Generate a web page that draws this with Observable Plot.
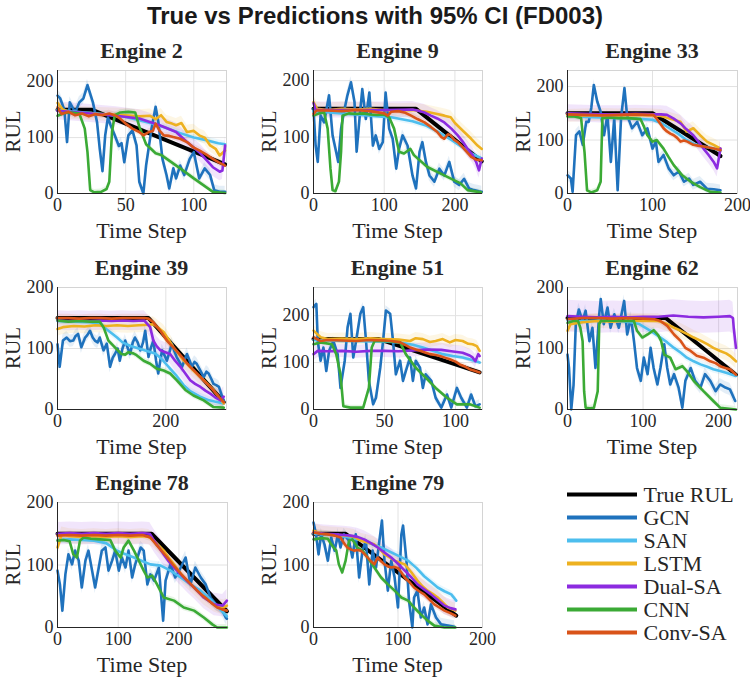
<!DOCTYPE html>
<html><head><meta charset="utf-8">
<script src="https://cdn.jsdelivr.net/npm/d3@7"></script>
<script src="https://cdn.jsdelivr.net/npm/@observablehq/plot@0.6"></script>
<style>
body{margin:0;background:#fff;}
#chart{position:relative;width:750px;height:677px;overflow:hidden;background:#fff;}
#chart svg{position:absolute;overflow:visible;}
</style></head><body><div id="chart"></div><script>
// ---------------- DATA ----------------
const chartTitle = "True vs Predictions with 95% CI (FD003)";
const engineIds = [2, 9, 33, 39, 51, 62, 78, 79];
const xMax = [124, 239, 200, 312, 119, 225, 280, 200];
const yMax = [220, 218, 230, 200, 260, 200, 200, 200];
const xTicks = [[0,50,100],[0,100,200],[0,100,200],[0,200],[0,50,100],[0,100,200],[0,100,200],[0,100,200]];
const yTicks = [0, 100, 200];
const seriesNames = ["True RUL","GCN","SAN","LSTM","Dual-SA","CNN","Conv-SA"];
const ciHalf = [0, 10, 6, 12, 16, 5, 6];          // 95% CI half-width per series
const dualCi = [16, 14, 16, 16, 14, 26, 18, 14];   // Dual-SA CI half-width per engine

// Engine 2
const e2_true = [[0,150],[25,150],[123,52]];
const e2_gcn = [[0,175],[2,170],[5,150],[7,92],[9,163],[13,145],[16,163],[19,170],[22,194],[26,163],[29,128],[31,80],[33,40],[35,104],[37,136],[39,122],[42,104],[45,85],[47,90],[49,56],[52,104],[55,113],[58,86],[60,21],[63,0],[65,50],[69,116],[72,155],[74,128],[77,62],[80,33],[82,9],[85,45],[87,27],[90,50],[93,33],[97,62],[100,74],[104,27],[108,45],[112,33],[115,6],[119,3],[123,3]];
const e2_san = [[0,150],[10,147],[20,145],[30,143],[40,140],[50,137],[60,131],[70,125],[80,117],[90,108],[100,100],[110,95],[118,90],[123,88]];
const e2_lstm = [[0,162],[4,150],[10,145],[20,143],[30,142],[40,141],[50,140],[60,138],[68,139],[72,133],[76,140],[80,128],[84,125],[87,122],[91,126],[95,110],[100,112],[104,104],[108,100],[112,86],[116,80],[119,68],[123,77]];
const e2_dual = [[0,148],[20,144],[43,139],[60,134],[75,122],[87,110],[95,92],[104,74],[114,47],[119,39],[121,41],[123,86]];
const e2_cnn = [[0,139],[5,144],[10,145],[16,143],[20,116],[22,74],[24,6],[27,2],[32,3],[36,8],[38,21],[40,110],[42,140],[46,145],[52,146],[57,145],[60,120],[65,88],[72,72],[76,69],[90,45],[100,27],[114,3],[123,1]];
const e2_conv = [[0,154],[3,142],[8,146],[13,140],[18,143],[23,138],[28,142],[33,140],[38,143],[43,139],[46,134],[50,125],[55,116],[60,110],[63,104],[67,110],[70,112],[72,125],[75,112],[78,104],[82,103],[85,101],[90,98],[95,92],[100,82],[104,77],[109,70],[114,62],[118,56],[123,50]];

// Engine 9
const e9_true = [[0,150],[145,150],[238,57]];
const e9_gcn = [[0,150],[3,85],[6,56],[10,138],[15,126],[22,174],[27,103],[32,74],[35,56],[39,115],[43,144],[48,174],[53,197],[58,162],[61,74],[65,132],[69,185],[74,132],[79,179],[84,85],[88,103],[93,79],[98,91],[102,179],[107,115],[112,97],[117,44],[121,79],[126,103],[133,85],[140,32],[145,9],[150,74],[154,91],[159,56],[164,32],[171,21],[178,44],[185,32],[192,56],[199,21],[206,15],[213,26],[220,9],[227,6],[234,4],[238,3]];
const e9_san = [[0,146],[40,142],[80,138],[110,135],[140,128],[160,120],[175,110],[195,95],[213,80],[225,70],[238,62]];
const e9_lstm = [[0,162],[5,150],[20,148],[40,150],[60,149],[80,150],[100,148],[120,147],[140,148],[160,145],[175,141],[185,138],[194,135],[200,125],[213,109],[223,97],[232,85],[238,79]];
const e9_dual = [[0,160],[3,148],[20,148],[60,148],[100,148],[140,149],[147,147],[156,144],[166,138],[175,133],[185,126],[195,115],[204,103],[211,92],[218,79],[225,68],[230,56],[234,41],[238,62]];
const e9_cnn = [[0,138],[8,142],[15,144],[20,115],[24,44],[27,6],[31,4],[36,21],[39,74],[41,138],[50,142],[60,141],[70,142],[80,140],[90,139],[100,140],[107,135],[114,115],[121,74],[128,71],[137,79],[142,68],[161,47],[185,32],[208,18],[218,6],[237,2]];
const e9_conv = [[0,141],[4,147],[20,147],[40,146],[60,148],[80,146],[100,142],[105,138],[110,145],[120,146],[130,143],[138,138],[147,132],[157,126],[166,118],[175,109],[181,100],[185,97],[190,105],[194,103],[199,95],[204,91],[208,86],[213,79],[218,72],[223,65],[230,60],[238,59]];

// Engine 33
const e33_true = [[0,150],[100,150],[180,70]];
const e33_gcn = [[0,34],[4,28],[6,3],[10,109],[14,116],[18,91],[22,134],[25,134],[28,160],[31,203],[35,172],[39,153],[43,109],[47,147],[51,59],[55,141],[59,6],[63,141],[67,197],[70,147],[76,122],[82,134],[88,109],[94,122],[100,84],[104,97],[107,59],[113,72],[119,47],[125,34],[131,41],[137,22],[143,28],[148,16],[156,22],[164,9],[172,8],[180,6]];
const e33_san = [[0,145],[20,143],[40,142],[60,141],[80,140],[100,138],[110,132],[120,122],[130,112],[140,100],[150,92],[160,88],[172,84],[180,80]];
const e33_lstm = [[0,145],[20,146],[40,147],[60,146],[80,147],[100,146],[110,145],[120,140],[133,134],[140,116],[148,122],[156,109],[164,97],[172,91],[180,84]];
const e33_dual = [[0,150],[20,149],[40,148],[60,148],[80,149],[100,148],[110,148],[117,147],[125,140],[133,131],[140,120],[148,109],[154,97],[160,84],[166,72],[172,59],[176,47],[180,84]];
const e33_cnn = [[0,144],[8,144],[16,141],[20,78],[23,6],[28,2],[35,6],[39,22],[41,141],[50,142],[60,141],[70,141],[80,140],[86,139],[90,125],[94,109],[100,97],[105,100],[113,84],[119,68],[125,53],[135,34],[145,22],[156,12],[168,3],[180,2]];
const e33_conv = [[0,148],[20,147],[40,146],[60,147],[80,148],[95,147],[101,147],[105,140],[109,131],[113,122],[117,116],[121,112],[125,109],[129,104],[133,97],[137,99],[141,97],[148,91],[155,89],[160,88],[166,86],[172,84],[180,81]];

// Engine 39
const e39_true = [[0,150],[168,150],[307,12]];
const e39_gcn = [[0,107],[4,70],[10,113],[17,118],[23,112],[29,113],[33,120],[38,124],[44,102],[51,118],[55,122],[60,129],[65,118],[69,113],[74,110],[78,118],[85,97],[91,108],[97,70],[102,85],[106,91],[111,100],[115,80],[120,100],[125,113],[130,100],[134,91],[139,110],[143,118],[148,110],[153,97],[158,110],[162,129],[168,86],[172,100],[177,113],[182,80],[186,59],[193,97],[198,88],[202,80],[207,95],[211,108],[216,95],[220,86],[225,78],[230,70],[235,82],[239,91],[244,80],[248,70],[253,78],[257,75],[263,65],[270,53],[275,62],[279,59],[284,50],[288,42],[293,40],[298,37],[304,21],[307,15]];
const e39_san = [[0,145],[30,144],[60,143],[80,140],[90,132],[100,125],[110,118],[120,110],[135,104],[150,100],[165,96],[180,92],[190,85],[200,75],[210,65],[220,55],[233,40],[245,30],[263,21],[280,15],[290,13],[307,10]];
const e39_lstm = [[0,132],[10,135],[30,137],[50,136],[70,138],[90,137],[110,138],[130,137],[150,138],[170,139],[177,140],[186,134],[196,127],[205,115],[214,102],[224,91],[233,80],[242,72],[251,64],[260,56],[270,48],[279,40],[288,32],[298,20],[307,10]];
const e39_dual = [[0,146],[20,145],[40,146],[60,145],[80,146],[100,145],[120,146],[140,145],[160,146],[171,135],[177,113],[183,104],[190,97],[199,94],[208,91],[217,80],[227,70],[236,59],[245,48],[254,42],[264,37],[273,31],[282,26],[291,20],[301,15],[307,21]];
const e39_cnn = [[0,146],[20,144],[40,145],[60,144],[78,144],[85,135],[94,113],[106,102],[118,91],[125,90],[131,94],[140,92],[146,89],[159,80],[171,75],[183,67],[196,64],[208,59],[220,48],[236,32],[251,23],[270,15],[288,4],[307,3]];
const e39_conv = [[0,150],[20,150],[40,149],[60,150],[80,150],[100,149],[120,150],[140,150],[160,150],[168,149],[177,143],[183,136],[190,129],[196,121],[202,113],[208,107],[214,102],[222,94],[230,86],[237,78],[245,70],[254,62],[264,53],[273,45],[282,37],[291,28],[301,18],[307,12]];

// Engine 51
const e51_true = [[0,150],[46,150],[117,79]];
const e51_gcn = [[0,218],[2,225],[3,146],[5,104],[7,132],[9,82],[11,125],[14,146],[17,118],[19,46],[22,104],[24,175],[26,204],[28,111],[30,146],[33,204],[35,218],[37,146],[39,61],[42,11],[44,25],[47,89],[49,146],[51,211],[54,204],[56,146],[58,75],[61,104],[63,61],[65,82],[68,111],[70,61],[72,104],[75,89],[77,46],[79,75],[83,61],[86,25],[90,4],[94,32],[97,4],[101,46],[104,25],[108,4],[111,32],[114,7],[117,11]];
const e51_san = [[0,148],[10,147],[20,146],[30,146],[40,145],[50,145],[60,143],[70,138],[77,132],[84,125],[91,118],[98,114],[105,111],[111,106],[117,100]];
const e51_lstm = [[0,168],[5,154],[10,150],[20,151],[30,150],[40,152],[50,150],[60,149],[68,146],[72,152],[77,150],[82,144],[86,146],[91,150],[96,143],[100,148],[105,146],[109,140],[112,139],[115,135],[117,125]];
const e51_dual = [[0,118],[3,125],[10,124],[20,125],[30,123],[40,125],[50,125],[60,124],[70,126],[80,128],[90,127],[97,124],[105,121],[110,115],[112,111],[114,103],[116,118],[117,114]];
const e51_cnn = [[0,139],[5,143],[13,139],[16,118],[19,75],[21,7],[26,4],[35,4],[39,46],[41,132],[43,146],[50,146],[55,145],[61,143],[65,118],[72,89],[79,68],[86,46],[94,25],[101,11],[110,11],[117,4]];
const e51_conv = [[0,154],[5,146],[10,148],[20,147],[30,146],[40,148],[50,147],[55,146],[61,143],[65,137],[68,132],[72,128],[75,125],[79,121],[82,118],[86,116],[89,114],[93,110],[96,107],[100,102],[103,96],[107,91],[110,86],[114,82],[117,79]];

// Engine 62
const e62_true = [[0,150],[130,150],[223,57]];
const e62_gcn = [[0,90],[2,68],[5,0],[8,40],[11,140],[15,164],[20,145],[24,162],[29,112],[33,134],[37,68],[42,156],[44,181],[48,140],[53,167],[57,134],[62,156],[68,134],[75,178],[79,123],[84,151],[88,112],[92,68],[97,47],[101,85],[106,58],[110,101],[114,68],[119,41],[123,68],[128,107],[132,68],[136,41],[141,58],[147,36],[152,3],[156,47],[163,68],[169,47],[176,36],[182,58],[189,47],[196,30],[202,41],[209,36],[215,33],[222,14]];
const e62_san = [[0,146],[20,145],[40,146],[60,145],[80,144],[95,140],[110,129],[123,118],[132,110],[141,101],[150,93],[158,85],[167,79],[176,74],[185,70],[193,66],[202,63],[211,60],[223,55]];
const e62_lstm = [[0,129],[4,140],[20,143],[40,145],[60,144],[80,146],[100,145],[120,145],[132,140],[141,134],[150,129],[158,124],[167,118],[176,113],[185,107],[193,101],[202,96],[210,92],[215,88],[223,79]];
const e62_dual = [[0,153],[20,152],[40,151],[60,152],[80,151],[100,152],[120,152],[140,154],[160,152],[180,151],[200,152],[215,153],[219,150],[220,134],[222,112],[223,101]];
const e62_cnn = [[0,142],[8,145],[14,145],[17,134],[20,112],[22,30],[24,3],[30,2],[35,3],[40,30],[42,140],[44,145],[60,146],[75,145],[88,145],[92,129],[99,118],[106,123],[114,130],[120,122],[124,112],[128,90],[136,85],[143,66],[152,71],[158,63],[167,47],[180,30],[193,14],[202,3],[223,0]];
const e62_conv = [[0,148],[20,150],[40,150],[60,149],[80,150],[100,149],[115,148],[123,145],[132,137],[141,123],[150,112],[156,101],[163,96],[171,88],[180,85],[189,79],[196,76],[202,71],[209,68],[215,66],[223,57]];

// Engine 78
const e78_true = [[0,150],[155,150],[279,26]];
const e78_gcn = [[0,91],[4,69],[8,27],[13,85],[18,117],[24,101],[29,123],[35,107],[40,64],[46,107],[51,123],[57,91],[62,64],[68,96],[73,123],[79,128],[84,91],[90,107],[95,123],[101,91],[106,112],[112,96],[117,123],[123,80],[128,101],[137,128],[142,123],[148,69],[153,85],[159,75],[167,96],[174,11],[178,75],[186,101],[194,80],[203,96],[211,112],[219,69],[227,96],[236,80],[244,69],[252,48],[261,37],[269,32],[277,16],[279,14]];
const e78_san = [[0,140],[20,141],[40,140],[60,139],[80,135],[98,123],[110,118],[126,112],[140,106],[153,101],[170,99],[186,91],[203,80],[219,69],[236,59],[252,45],[265,32],[279,18]];
const e78_lstm = [[0,128],[7,149],[20,146],[40,145],[60,146],[80,145],[100,146],[120,145],[140,146],[150,145],[159,139],[167,131],[175,123],[183,112],[192,101],[200,90],[208,80],[216,72],[225,64],[233,56],[241,48],[250,42],[258,37],[266,34],[274,32],[279,35]];
const e78_dual = [[0,150],[20,151],[40,150],[60,151],[80,150],[100,151],[120,150],[140,151],[152,150],[159,139],[167,128],[175,117],[183,106],[192,96],[200,88],[208,80],[216,72],[225,64],[233,56],[241,48],[250,42],[258,37],[265,36],[272,35],[279,43]];
const e78_cnn = [[0,139],[10,140],[20,138],[26,117],[32,112],[37,139],[43,144],[55,142],[70,141],[87,140],[95,123],[104,112],[109,128],[117,139],[126,123],[134,107],[142,91],[148,80],[156,83],[164,69],[175,48],[192,43],[208,32],[225,27],[241,16],[255,5],[263,0],[279,0]];
const e78_conv = [[0,147],[20,148],[40,147],[60,148],[80,147],[100,148],[120,147],[140,148],[153,144],[158,138],[164,131],[172,122],[181,112],[189,102],[197,93],[205,84],[214,75],[222,67],[230,59],[238,52],[247,45],[255,38],[263,32],[271,29],[279,27]];

// Engine 79
const e79_true = [[0,150],[38,150],[169,19]];
const e79_gcn = [[0,168],[3,149],[6,117],[9,149],[13,133],[17,107],[21,144],[25,123],[29,149],[32,128],[36,149],[42,139],[46,112],[50,149],[54,80],[58,123],[62,139],[66,69],[70,123],[74,96],[78,139],[81,171],[84,107],[88,59],[92,107],[96,80],[100,32],[104,149],[106,163],[110,107],[113,43],[117,0],[119,48],[123,59],[127,16],[131,32],[135,5],[139,37],[145,16],[151,5],[159,3],[167,1]];
const e79_san = [[0,150],[20,148],[40,145],[60,138],[80,128],[100,115],[112,107],[122,95],[131,82],[140,72],[147,64],[155,58],[163,53],[169,43]];
const e79_lstm = [[0,155],[10,150],[20,149],[30,148],[40,147],[48,145],[56,139],[64,136],[72,133],[78,126],[84,117],[90,112],[96,107],[102,104],[108,101],[116,88],[123,75],[129,66],[135,59],[141,54],[147,48],[153,40],[159,32],[164,29],[168,27]];
const e79_dual = [[0,152],[13,150],[26,149],[36,148],[44,147],[52,145],[60,141],[68,135],[76,128],[84,120],[92,112],[100,102],[108,91],[116,80],[123,69],[131,61],[139,53],[147,44],[155,35],[162,31],[168,29]];
const e79_cnn = [[0,141],[10,143],[17,142],[21,133],[27,123],[30,101],[34,88],[38,107],[42,139],[46,141],[52,128],[58,123],[64,112],[72,96],[80,80],[88,69],[96,59],[104,48],[112,43],[119,32],[127,21],[135,11],[143,3],[155,0],[168,0]];
const e79_conv = [[0,152],[8,150],[17,149],[25,147],[32,144],[36,135],[40,128],[44,125],[48,123],[52,124],[56,123],[60,118],[64,112],[68,106],[72,101],[76,112],[80,106],[84,101],[88,98],[92,96],[96,97],[100,95],[104,88],[108,80],[114,72],[119,64],[125,58],[131,53],[137,45],[143,37],[149,32],[155,27],[162,23],[168,19]];

// ---------------- STYLE / LAYOUT ----------------
const seriesColors = ["#000000","#1f72bd","#4dbeee","#edb120","#8c2be0","#3baa35","#d95319"];
const layout = [
  {l:57,t:70,r:226,b:193},{l:313,t:70,r:482,b:193},{l:567,t:70,r:737,b:193},
  {l:57,t:287,r:226,b:409},{l:313,t:287,r:482,b:409},{l:567,t:287,r:737,b:409},
  {l:57,t:502,r:227,b:627},{l:313,t:502,r:482,b:627}];
const seriesData = [
  [e2_true,e2_gcn,e2_san,e2_lstm,e2_dual,e2_cnn,e2_conv],
  [e9_true,e9_gcn,e9_san,e9_lstm,e9_dual,e9_cnn,e9_conv],
  [e33_true,e33_gcn,e33_san,e33_lstm,e33_dual,e33_cnn,e33_conv],
  [e39_true,e39_gcn,e39_san,e39_lstm,e39_dual,e39_cnn,e39_conv],
  [e51_true,e51_gcn,e51_san,e51_lstm,e51_dual,e51_cnn,e51_conv],
  [e62_true,e62_gcn,e62_san,e62_lstm,e62_dual,e62_cnn,e62_conv],
  [e78_true,e78_gcn,e78_san,e78_lstm,e78_dual,e78_cnn,e78_conv],
  [e79_true,e79_gcn,e79_san,e79_lstm,e79_dual,e79_cnn,e79_conv]];

const serif = '"Liberation Serif","Times New Roman",serif';
const ink = "#262626";
const ML = 46, MR = 10, MT = 12, MB = 30;
const chart = document.getElementById("chart");

engineIds.forEach((id, i) => {
  const L = layout[i];
  const w = L.r - L.l, h = L.b - L.t;
  const sers = seriesData[i];
  const marks = [
    Plot.gridX(xTicks[i], {stroke: "#e2e2e2", strokeOpacity: 1}),
    Plot.gridY(yTicks, {stroke: "#e2e2e2", strokeOpacity: 1}),
    Plot.frame({stroke: "#d4d4d4"})
  ];
  sers.forEach((s, k) => {
    if (k === 0) return;
    const c = k === 4 ? dualCi[i] : ciHalf[k];
    marks.push(Plot.areaY(s, {x: d => d[0], y1: d => Math.max(0, d[1] - c), y2: d => d[1] + c,
      fill: seriesColors[k], fillOpacity: 0.12, clip: true}));
  });
  sers.forEach((s, k) => {
    marks.push(Plot.line(s, {x: d => d[0], y: d => d[1], stroke: seriesColors[k],
      strokeWidth: k === 0 ? 4 : 2.6, strokeLinejoin: "round", strokeLinecap: "round"}));
  });
  marks.push(
    Plot.ruleX([0], {stroke: ink, strokeWidth: 1}),
    Plot.ruleY([0], {stroke: ink, strokeWidth: 1}),
    Plot.axisX({ticks: xTicks[i], tickSize: 0, tickPadding: 5, label: null, fontSize: 18}),
    Plot.axisY({ticks: yTicks, tickSize: 0, tickPadding: 4, label: null, fontSize: 18})
  );
  const svg = Plot.plot({
    width: w + ML + MR, height: h + MT + MB,
    marginLeft: ML, marginRight: MR, marginTop: MT, marginBottom: MB,
    style: {fontFamily: serif, fontSize: "18px", color: ink, background: "transparent", overflow: "visible"},
    x: {domain: [0, xMax[i]]},
    y: {domain: [0, yMax[i]]},
    marks
  });
  svg.style.left = (L.l - ML) + "px";
  svg.style.top = (L.t - MT) + "px";
  chart.appendChild(svg);
});

// Legend (drawn with Plot)
const legend = Plot.plot({
  width: 190, height: 190, marginLeft: 7, marginRight: 113, marginTop: 0, marginBottom: 0,
  style: {fontFamily: serif, fontSize: "22px", color: ink, background: "transparent", overflow: "visible"},
  x: {domain: [0, 1], axis: null},
  y: {type: "point", domain: seriesNames, range: [11.7, 175], axis: null},
  marks: [
    Plot.ruleY(seriesNames, {y: d => d, x1: 0, x2: 1, stroke: d => seriesColors[seriesNames.indexOf(d)], strokeWidth: 4}),
    Plot.text(seriesNames, {y: d => d, x: 1, dx: 6, text: d => d, textAnchor: "start", fill: ink, fontSize: 22})
  ]
});
legend.style.left = "560px";
legend.style.top = "470px";
chart.appendChild(legend);

// Titles and axis labels
const ov = d3.create("svg").attr("width", 750).attr("height", 677)
  .style("left", "0px").style("top", "0px").style("pointer-events", "none");
ov.append("text").attr("x", 375).attr("y", 24).attr("text-anchor", "middle")
  .attr("font-family", '"Liberation Sans",Arial,sans-serif').attr("font-weight", "bold")
  .attr("font-size", 24).attr("fill", "#1a1a1a").text(chartTitle);
engineIds.forEach((id, i) => {
  const L = layout[i];
  const cx = (L.l + L.r) / 2;
  ov.append("text").attr("x", cx).attr("y", L.t - 12).attr("text-anchor", "middle")
    .attr("font-family", serif).attr("font-weight", "bold").attr("font-size", 22)
    .attr("fill", ink).text("Engine " + id);
  ov.append("text").attr("x", cx).attr("y", L.b + 45).attr("text-anchor", "middle")
    .attr("font-family", serif).attr("font-size", 22).attr("fill", ink).text("Time Step");
  ov.append("text").attr("transform", `translate(${L.l - 37},${(L.t + L.b) / 2}) rotate(-90)`)
    .attr("text-anchor", "middle").attr("font-family", serif).attr("font-size", 21)
    .attr("fill", ink).text("RUL");
});
chart.appendChild(ov.node());
</script></body></html>
